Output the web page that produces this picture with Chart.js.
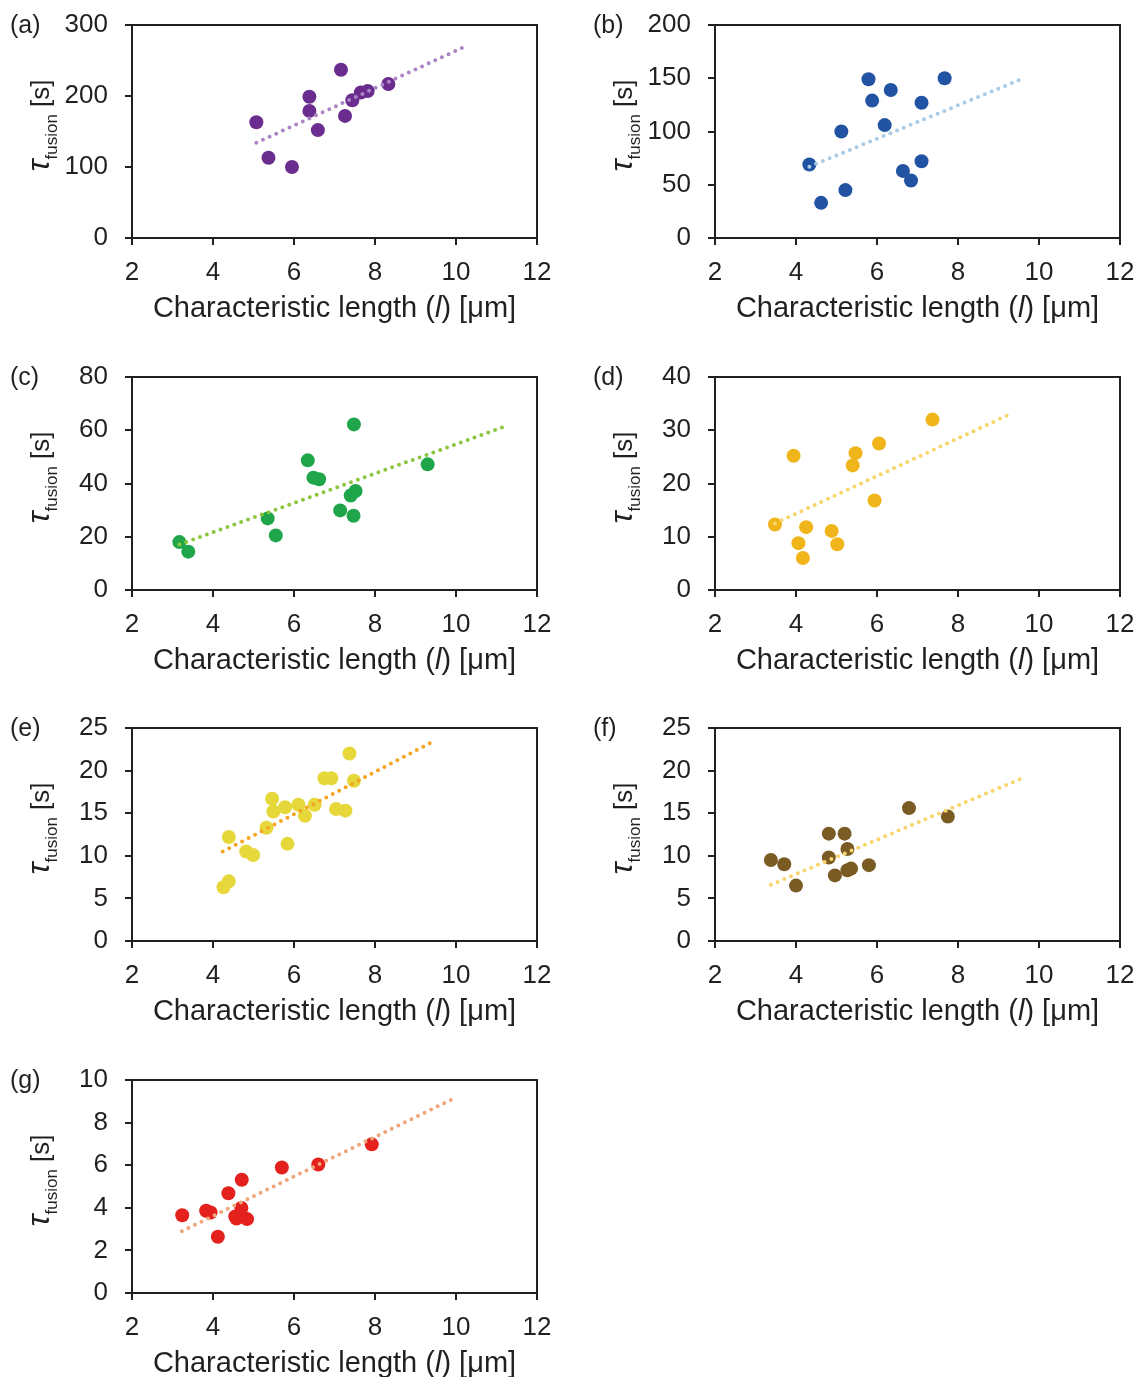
<!DOCTYPE html>
<html lang="en">

<head>
    <meta charset="UTF-8">
    <title>Fusion time vs characteristic length</title>
    <script src="https://cdn.jsdelivr.net/npm/chart.js"></script>
    <style>
        body {
            margin: 0;
            width: 1138px;
            height: 1377px;
            background: #ffffff;
            overflow: hidden;
            position: relative;
        }

        .panel {
            position: absolute;
            width: 554px;
            height: 351px;
        }
    </style>
</head>

<body>
    <div id="charts"></div>

    <script type="text/javascript">
        const panelLabels = ['(a)', '(b)', '(c)', '(d)', '(e)', '(f)', '(g)'];
        const yMax = [300, 200, 80, 40, 25, 25, 10];
        const yStep = [100, 50, 20, 10, 5, 5, 2];

        // characteristic length [um] and fusion time [s] per panel
        const lenA = [5.07, 5.37, 5.95, 6.38, 6.38, 6.59, 7.16, 7.26, 7.44, 7.65, 7.82, 8.33];
        const tauA = [163, 113, 100, 199, 179, 152, 237, 172, 194, 205, 207, 217];
        const lenB = [4.33, 4.62, 5.12, 5.22, 5.79, 5.88, 6.19, 6.34, 6.64, 6.84, 7.10, 7.10, 7.67];
        const tauB = [69, 33, 100, 45, 149, 129, 106, 139, 63, 54, 127, 72, 150];
        const lenC = [3.17, 3.39, 5.35, 5.55, 6.34, 6.48, 6.62, 7.14, 7.40, 7.52, 7.47, 7.48, 9.30];
        const tauC = [18.0, 14.4, 26.9, 20.5, 48.7, 42.2, 41.6, 29.9, 35.5, 37.2, 27.9, 62.2, 47.2];
        const lenD = [3.48, 3.94, 4.06, 4.17, 4.25, 4.88, 5.02, 5.40, 5.47, 5.94, 6.05, 7.37];
        const tauD = [12.3, 25.2, 8.8, 6.0, 11.8, 11.1, 8.6, 23.4, 25.7, 16.8, 27.5, 32.0];
        const lenE = [4.26, 4.39, 4.39, 4.82, 4.99, 5.32, 5.46, 5.49, 5.78, 5.84, 6.11, 6.27, 6.51, 6.75, 6.92, 7.04, 7.27, 7.37, 7.48];
        const tauE = [6.3, 7.0, 12.2, 10.5, 10.1, 13.3, 16.7, 15.2, 15.7, 11.4, 16.0, 14.7, 16.0, 19.1, 19.1, 15.5, 15.3, 22.0, 18.8];
        const lenF = [3.38, 3.71, 4.00, 4.81, 4.81, 4.96, 5.20, 5.27, 5.27, 5.36, 5.80, 6.79, 7.75];
        const tauF = [9.5, 9.0, 6.5, 12.6, 9.8, 7.7, 12.6, 10.8, 8.3, 8.5, 8.9, 15.6, 14.6];
        const lenG = [3.24, 3.83, 3.94, 4.12, 4.38, 4.55, 4.58, 4.70, 4.71, 4.84, 5.70, 6.60, 7.92];
        const tauG = [3.65, 3.86, 3.78, 2.64, 4.68, 3.59, 3.50, 3.99, 5.32, 3.47, 5.89, 6.03, 6.98];

        // linear fit end points (dotted lines)
        const fitLen = [[5.07, 10.16], [4.33, 9.65], [3.17, 11.24], [3.48, 9.28], [4.24, 9.43], [3.38, 9.63], [3.23, 9.89]];
        const fitTau = [[134, 268], [67, 150.5], [17.1, 61.6], [12.5, 33.0], [10.5, 23.4], [6.6, 19.2], [2.9, 9.08]];

        const pointColors = ['#6a2d8f', '#2253a3', '#1fa64a', '#f1b51c', '#e6d83a', '#7a5b23', '#e4211c'];
        const fitColors = ['#ad85c6', '#a8cbe8', '#8cc63f', '#f8d56a', '#f4a521', '#f8d56a', '#efa67c'];

        const lens = [lenA, lenB, lenC, lenD, lenE, lenF, lenG];
        const taus = [tauA, tauB, tauC, tauD, tauE, tauF, tauG];

        const ink = '#231f20';
        const fontFamily = "'Liberation Sans', Arial, sans-serif";

        // box on top/right, axis titles and panel letter
        const decorations = {
            id: 'decorations',
            afterDraw(chart, args, opts) {
                const ctx = chart.ctx;
                const a = chart.chartArea;
                ctx.save();
                ctx.strokeStyle = ink;
                ctx.lineWidth = 2;
                ctx.beginPath();
                ctx.moveTo(a.left, a.top);
                ctx.lineTo(a.right, a.top);
                ctx.lineTo(a.right, a.bottom);
                ctx.stroke();

                ctx.fillStyle = ink;
                ctx.textBaseline = 'alphabetic';

                // x title with italic l
                const parts = [
                    ['Characteristic length (', '29px ' + fontFamily],
                    ['l', 'italic 29px ' + fontFamily],
                    [') [\u03bcm]', '29px ' + fontFamily]
                ];
                let total = 0;
                parts.forEach(p => { ctx.font = p[1]; total += ctx.measureText(p[0]).width; });
                let x = (a.left + a.right) / 2 - total / 2;
                parts.forEach(p => {
                    ctx.font = p[1];
                    ctx.textAlign = 'left';
                    ctx.fillText(p[0], x, a.bottom + 79);
                    x += ctx.measureText(p[0]).width;
                });

                // y title: tau with subscript "fusion", then [s]
                ctx.save();
                ctx.translate(a.left - 83, (a.top + a.bottom) / 2 - 6);
                ctx.rotate(-Math.PI / 2);
                const yParts = [
                    ['\u03c4', 'italic 32px ' + fontFamily, 0],
                    ['fusion', '17px ' + fontFamily, 8],
                    [' [s]', '26px ' + fontFamily, 0]
                ];
                let yTotal = 0;
                yParts.forEach(p => { ctx.font = p[1]; yTotal += ctx.measureText(p[0]).width; });
                let t = -yTotal / 2;
                yParts.forEach(p => {
                    ctx.font = p[1];
                    ctx.textAlign = 'left';
                    ctx.fillText(p[0], t, p[2]);
                    t += ctx.measureText(p[0]).width;
                });
                ctx.restore();

                ctx.font = '25px ' + fontFamily;
                ctx.textAlign = 'left';
                ctx.textBaseline = 'middle';
                ctx.fillText(opts.label, a.left - 122, a.top + 1);
                ctx.restore();
            }
        };

        const container = document.getElementById('charts');

        panelLabels.forEach((label, i) => {
            const div = document.createElement('div');
            div.className = 'panel';
            div.style.left = (i % 2 === 0 ? 0 : 583) + 'px';
            div.style.top = (Math.floor(i / 2) * 351.5) + 'px';
            const canvas = document.createElement('canvas');
            canvas.width = 554;
            canvas.height = 351;
            div.appendChild(canvas);
            container.appendChild(div);

            const points = lens[i].map((v, k) => ({ x: v, y: taus[i][k] }));
            const fit = fitLen[i].map((v, k) => ({ x: v, y: fitTau[i][k] }));

            new Chart(canvas.getContext('2d'), {
                type: 'scatter',
                data: {
                    datasets: [
                        {
                            type: 'line',
                            data: fit,
                            borderColor: fitColors[i],
                            borderWidth: 4,
                            borderDash: [0, 7.3],
                            borderCapStyle: 'round',
                            pointRadius: 0,
                            fill: false
                        },
                        {
                            data: points,
                            backgroundColor: pointColors[i],
                            borderWidth: 0,
                            pointRadius: 7
                        }
                    ]
                },
                options: {
                    responsive: false,
                    animation: false,
                    devicePixelRatio: 1,
                    layout: {
                        autoPadding: false,
                        padding: { left: 0, top: 25, right: 17, bottom: 0 }
                    },
                    plugins: {
                        legend: { display: false },
                        tooltip: { enabled: false },
                        decorations: { label: label }
                    },
                    scales: {
                        x: {
                            type: 'linear',
                            min: 2,
                            max: 12,
                            afterFit: s => {
                                s.height = 113;
                                s.paddingLeft = 0;
                                s.paddingRight = 0;
                            },
                            ticks: {
                                stepSize: 2,
                                color: ink,
                                padding: 12,
                                font: { family: fontFamily, size: 26 }
                            },
                            grid: {
                                display: true,
                                drawOnChartArea: false,
                                drawTicks: true,
                                tickLength: 7,
                                color: ink,
                                lineWidth: 2
                            },
                            border: { display: true, color: ink, width: 2 }
                        },
                        y: {
                            type: 'linear',
                            min: 0,
                            max: yMax[i],
                            afterFit: s => {
                                s.width = 132;
                                s.paddingTop = 0;
                                s.paddingBottom = 0;
                            },
                            ticks: {
                                stepSize: yStep[i],
                                color: ink,
                                padding: 17,
                                font: { family: fontFamily, size: 26 }
                            },
                            grid: {
                                display: true,
                                drawOnChartArea: false,
                                drawTicks: true,
                                tickLength: 7,
                                color: ink,
                                lineWidth: 2
                            },
                            border: { display: true, color: ink, width: 2 }
                        }
                    }
                },
                plugins: [decorations]
            });
        });
    </script>

</body>

</html>
